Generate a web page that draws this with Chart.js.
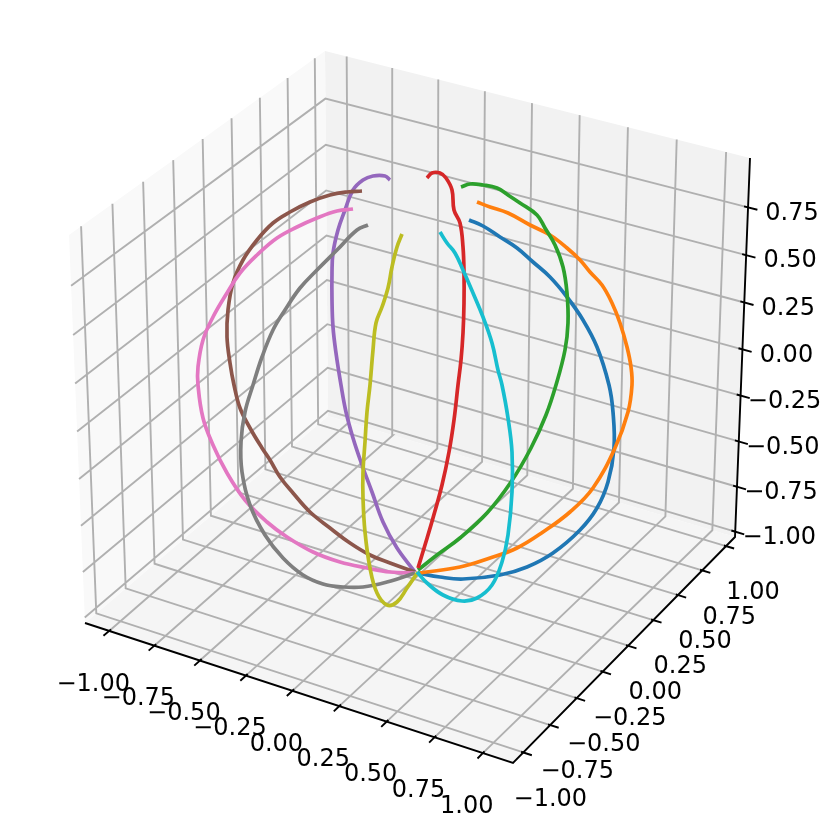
<!DOCTYPE html>
<html>
<head>
<meta charset="utf-8">
<script src="https://cdn.jsdelivr.net/npm/chart.js@4"></script>
<style>
  html, body { margin: 0; padding: 0; background: #fff; }
  canvas { display: block; }
</style>
</head>
<body>
<canvas id="sphereChart" width="830" height="830"></canvas>
<script>
// Tick values, the same on all three axes except z which has no 1.00
const xTicks = [-1, -0.75, -0.5, -0.25, 0, 0.25, 0.5, 0.75, 1];
const yTicks = [-1, -0.75, -0.5, -0.25, 0, 0.25, 0.5, 0.75, 1];
const zTicks = [-1, -0.75, -0.5, -0.25, 0, 0.25, 0.5, 0.75];

// Axis limits of the box, x reads a little different on the front and back edge
const xFrontLim = [-1.135, 1.155];
const xBackLim = [-1.12, 1.12];
const yLim = [-1.095, 1.095];
const zLim = [-1.03, 1.005];

// Curves, in view plane units
const blueX = [469, 483, 500, 517, 533, 550, 567, 583, 597, 609, 613, 614, 608, 597, 580, 553, 527, 500, 463, 440, 418];
const blueY = [220, 226, 237, 248, 262, 277, 297, 320, 347, 385, 412, 448, 482, 508, 530, 553, 567, 575, 579, 577, 573];
const orangeX = [477, 490, 508, 530, 550, 567, 580, 590, 602, 612, 620, 627, 631, 632, 628, 615, 593, 570, 543, 517, 490, 460, 420];
const orangeY = [202, 207, 213, 225, 235, 248, 260, 272, 285, 303, 323, 347, 367, 385, 412, 448, 488, 512, 532, 548, 558, 567, 573];
const greenX = [461, 470, 483, 497, 508, 520, 537, 545, 555, 563, 567, 568, 565, 556, 546, 531, 511, 487, 460, 437, 418];
const greenY = [187, 184, 185, 188, 195, 203, 215, 228, 245, 267, 293, 323, 350, 385, 415, 448, 482, 513, 538, 555, 570];
const redX = [427, 432, 440, 446, 452, 454, 460, 463, 464, 464, 463, 461, 458, 454, 449, 442, 433, 425, 418];
const redY = [178, 173, 173, 178, 190, 210, 223, 247, 273, 303, 333, 360, 385, 420, 452, 485, 518, 545, 568];
const purpleX = [390, 385, 373, 363, 353, 345, 338, 333, 332, 332, 333, 336, 341, 346, 353, 362, 372, 383, 397, 415];
const purpleY = [180, 176, 176, 180, 190, 210, 230, 253, 273, 300, 327, 353, 385, 412, 438, 465, 492, 522, 548, 572];
const brownX = [362, 347, 330, 310, 290, 273, 257, 243, 233, 228, 227, 230, 234, 240, 250, 262, 270, 280, 293, 310, 330, 350, 370, 390, 415];
const brownY = [191, 192, 195, 202, 212, 223, 240, 260, 283, 310, 337, 363, 385, 408, 428, 448, 460, 477, 493, 512, 528, 543, 555, 563, 572];
const pinkX = [353, 337, 317, 297, 277, 257, 240, 227, 213, 203, 198, 198, 203, 213, 227, 245, 267, 287, 313, 340, 367, 390, 415];
const pinkY = [209, 211, 218, 227, 238, 255, 273, 293, 317, 340, 367, 385, 418, 445, 473, 500, 522, 537, 552, 562, 568, 572, 573];
const grayX = [368, 357, 337, 317, 300, 285, 273, 262, 253, 245, 241, 242, 250, 265, 283, 303, 323, 343, 363, 387, 415];
const grayY = [225, 230, 250, 270, 288, 310, 330, 357, 385, 412, 442, 472, 505, 535, 558, 575, 584, 587, 587, 582, 573];
const oliveX = [402, 397, 392, 388, 382, 376, 373, 370, 367, 365, 363, 363, 365, 370, 377, 387, 397, 407, 418];
const oliveY = [234, 247, 267, 288, 307, 323, 350, 385, 412, 442, 472, 498, 532, 568, 593, 605, 602, 588, 572];
const cyanX = [440, 447, 455, 463, 473, 483, 492, 498, 502, 508, 512, 512, 508, 502, 492, 477, 462, 443, 427, 417];
const cyanY = [232, 243, 253, 270, 293, 317, 343, 370, 385, 418, 452, 492, 535, 562, 585, 598, 601, 595, 583, 572];

const seriesX = [blueX, orangeX, greenX, redX, purpleX, brownX, pinkX, grayX, oliveX, cyanX];
const seriesY = [blueY, orangeY, greenY, redY, purpleY, brownY, pinkY, grayY, oliveY, cyanY];
const seriesColors = ['#1f77b4', '#ff7f0e', '#2ca02c', '#d62728', '#9467bd', '#8c564b', '#e377c2', '#7f7f7f', '#bcbd22', '#17becf'];

// Box corners in the picture, named by low/high on x, y, z
const P000 = [85, 623], P100 = [513, 763], P110 = [735, 537], P010 = [328, 416];
const P001 = [69, 235], P011 = [325, 51], P111 = [750, 158];

// Maps (u, v) in the unit square onto a four sided pane, keeps the perspective
function paneMap(a, b, c, d) {
  const dx1 = b[0] - c[0], dx2 = d[0] - c[0], sx = a[0] - b[0] + c[0] - d[0];
  const dy1 = b[1] - c[1], dy2 = d[1] - c[1], sy = a[1] - b[1] + c[1] - d[1];
  const det = dx1 * dy2 - dx2 * dy1;
  const g = (sx * dy2 - dx2 * sy) / det;
  const h = (dx1 * sy - sx * dy1) / det;
  const m = [b[0] - a[0] + g * b[0], d[0] - a[0] + h * d[0], b[1] - a[1] + g * b[1], d[1] - a[1] + h * d[1]];
  return (u, v) => {
    const w = g * u + h * v + 1;
    return { x: (m[0] * u + m[1] * v + a[0]) / w, y: (m[2] * u + m[3] * v + a[1]) / w };
  };
}

const floorPane = paneMap(P000, P100, P110, P010);
const leftPane = paneMap(P000, P010, P011, P001);
const backPane = paneMap(P010, P110, P111, P011);

const frac = (v, lim) => (v - lim[0]) / (lim[1] - lim[0]);
const gap = { x: null, y: null };

// Gridlines bend where two panes meet
const gridPoints = [];
xTicks.forEach(t => {
  const uFront = frac(t, xFrontLim), uBack = frac(t, xBackLim);
  gridPoints.push(floorPane(uFront, 0), floorPane(uBack, 1), backPane(uBack, 1), gap);
});
yTicks.forEach(t => {
  const v = frac(t, yLim);
  gridPoints.push(floorPane(1, v), floorPane(0, v), leftPane(v, 1), gap);
});
zTicks.forEach(t => {
  const v = frac(t, zLim);
  gridPoints.push(leftPane(0, v), leftPane(1, v), backPane(1, v), gap);
});

// Axis lines and tick marks
const xy = p => ({ x: p[0], y: p[1] });
const axisPoints = [xy(P000), xy(P100), xy(P110), xy(P111)];
const tickPoints = [];
const labels = [];
const minus = s => s.replace('-', '\u2212');

xTicks.forEach(t => {
  const u = frac(t, xFrontLim);
  tickPoints.push(floorPane(u, 0.007), floorPane(u, -0.022), gap);
  const p = floorPane(u, 0);
  labels.push({ text: minus(t.toFixed(2)), x: p.x - 16, y: p.y + 53.5 });
});
yTicks.forEach(t => {
  const v = frac(t, yLim);
  tickPoints.push(floorPane(0.995, v), floorPane(1.019, v), gap);
  const p = floorPane(1, v);
  labels.push({ text: minus(t.toFixed(2)), x: p.x + 27, y: p.y + 47 });
});
zTicks.forEach(t => {
  const v = frac(t, zLim);
  tickPoints.push(backPane(0.991, v), backPane(1.021, v), gap);
  const p = backPane(1, v);
  labels.push({ text: minus(t.toFixed(2)), x: p.x + 44, y: p.y + 6 });
});

const paneDataset = (corners, color) => ({
  data: corners.map(xy),
  fill: 'shape',
  backgroundColor: color,
  borderWidth: 0,
  pointRadius: 0,
  order: 30
});

const datasets = [
  paneDataset([P000, P010, P011, P001, P000], '#f9f9f9'),
  paneDataset([P010, P110, P111, P011, P010], '#f2f2f2'),
  paneDataset([P000, P100, P110, P010, P000], '#f5f5f5'),
  { data: gridPoints, borderColor: '#b0b0b0', borderWidth: 1.9, pointRadius: 0, order: 20 },
  { data: axisPoints, borderColor: '#000', borderWidth: 1.9, pointRadius: 0, order: 19 },
  { data: tickPoints, borderColor: '#000', borderWidth: 1.9, pointRadius: 0, order: 18 }
];

seriesX.forEach((xs, i) => {
  datasets.push({
    data: xs.map((x, k) => ({ x: x, y: seriesY[i][k] })),
    borderColor: seriesColors[i],
    borderWidth: 3.7,
    pointRadius: 0,
    tension: 0.4,
    order: 10 - i
  });
});

const tickLabelPlugin = {
  id: 'tickLabels',
  afterDraw(chart) {
    const { ctx, scales } = chart;
    ctx.save();
    ctx.fillStyle = '#000';
    ctx.font = '24px "DejaVu Sans"';
    ctx.textAlign = 'center';
    ctx.textBaseline = 'middle';
    labels.forEach(l => {
      ctx.fillText(l.text, scales.x.getPixelForValue(l.x), scales.y.getPixelForValue(l.y));
    });
    ctx.restore();
  }
};

new Chart(document.getElementById('sphereChart').getContext('2d'), {
  type: 'scatter',
  data: { datasets: datasets },
  plugins: [tickLabelPlugin],
  options: {
    responsive: false,
    animation: false,
    showLine: true,
    spanGaps: false,
    layout: { padding: 0 },
    plugins: { legend: { display: false }, tooltip: { enabled: false } },
    scales: {
      x: { type: 'linear', min: 0, max: 830, display: false },
      y: { type: 'linear', min: 0, max: 830, reverse: true, display: false }
    }
  }
});
</script>
</body>
</html>
